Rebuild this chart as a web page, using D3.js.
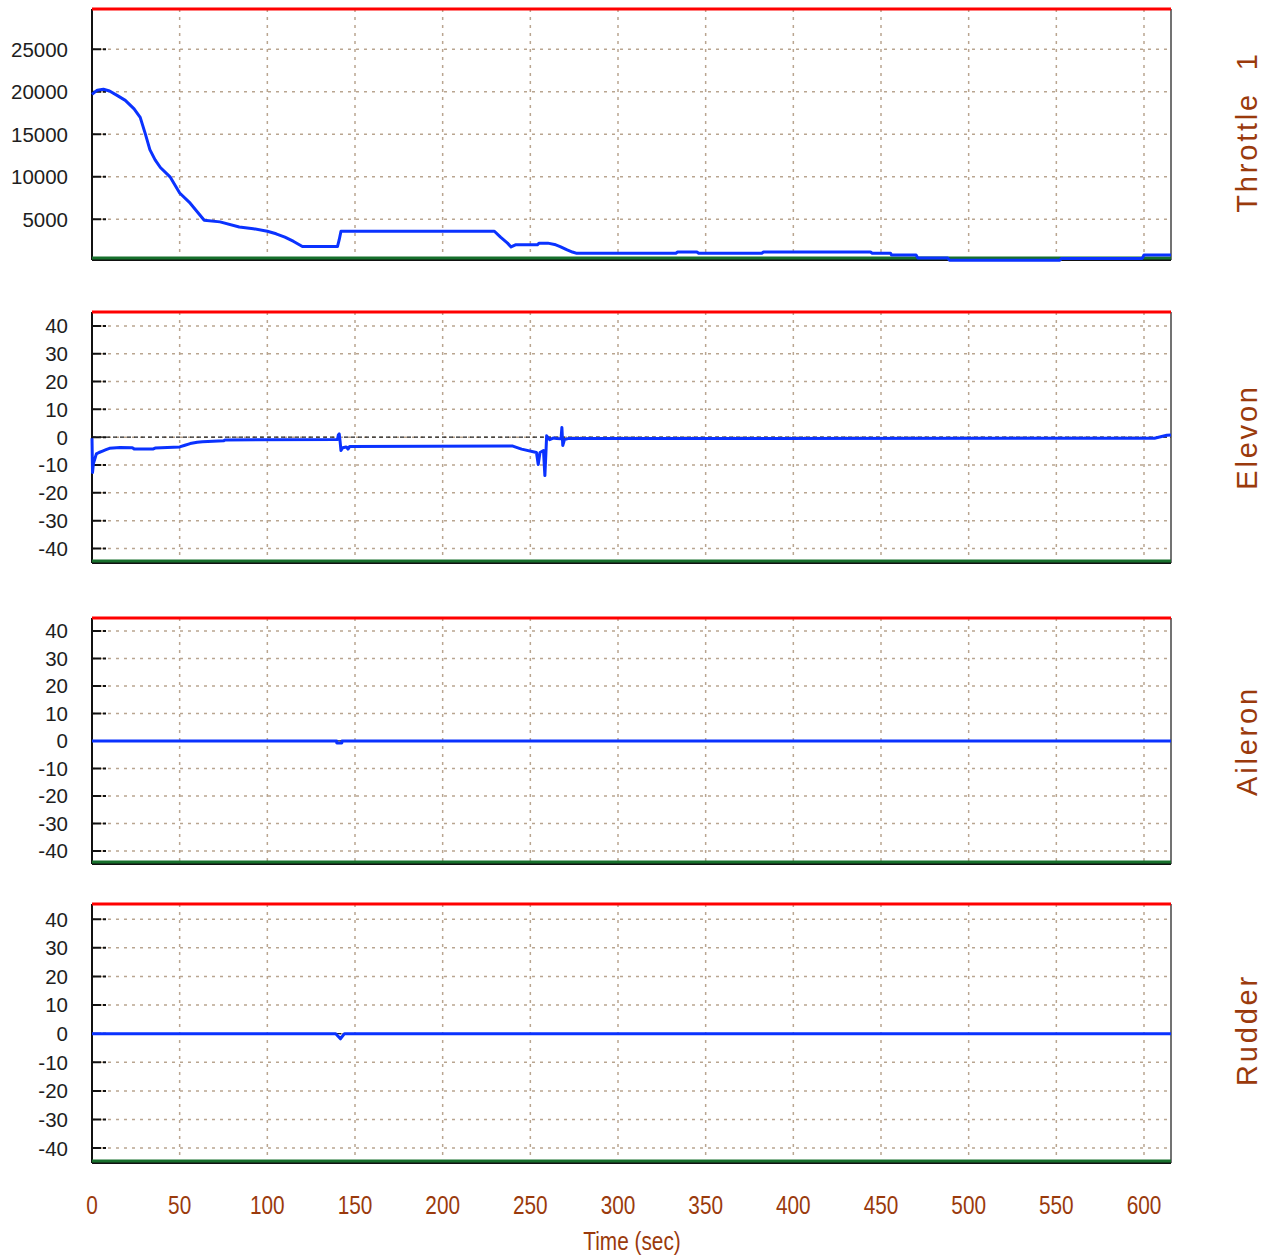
<!DOCTYPE html>
<html>
<head>
<meta charset="utf-8">
<script src="https://cdn.jsdelivr.net/npm/d3@7"></script>
<style>
  body { margin: 0; background: #fff; }
  svg { display: block; }
</style>
</head>
<body>
<svg width="1273" height="1260"></svg>
<script>
// time axis
var timeTicks = [0, 50, 100, 150, 200, 250, 300, 350, 400, 450, 500, 550, 600];
var timeMax = 615.4;

// y ticks
var throttleTicks = [5000, 10000, 15000, 20000, 25000];
var angleTicks = [-40, -30, -20, -10, 0, 10, 20, 30, 40];

// [time, value]
var throttle = [
  [0, 19700], [3, 20200], [6.5, 20300], [10, 20100], [15, 19500], [19, 19000],
  [24, 18000], [27.5, 17000], [29, 16000], [30.5, 15000], [33, 13200], [36, 12000],
  [39, 11100], [44.5, 10000], [50, 8100], [56, 6900], [60, 5900], [64, 4900],
  [73, 4700], [84, 4100], [92, 3900], [100, 3600], [105, 3300], [110, 2900],
  [115, 2400], [120, 1800], [140, 1800], [141, 2600], [142, 3600], [229.5, 3600],
  [233, 2900], [237, 2200], [239, 1750], [241.5, 2000], [254, 2000], [255, 2200],
  [260, 2200], [264.5, 2000], [267, 1800], [271, 1400], [274, 1150], [276.5, 1000],
  [333, 1000], [334, 1150], [345, 1150], [346, 1000], [382, 1000], [383, 1150],
  [444, 1150], [445, 1000], [455.5, 1000], [456, 800], [470, 800], [471, 450],
  [488, 450], [489, 200], [552, 200], [553, 400], [599, 400], [600, 800], [615.4, 800]
];

var elevon = [
  [0, -0.4], [0.3, -12.7], [0.8, -9.5], [1.5, -8], [2.5, -6], [4, -5.5], [6, -5],
  [8, -4.5], [10, -4], [16, -3.7], [23, -3.8], [24, -4.2], [35, -4.2], [36, -3.9],
  [50, -3.5], [53, -2.9], [56, -2.3], [60, -1.8], [63, -1.6], [75, -1.3], [76, -1.0],
  [140, -0.8], [140.5, 0.8], [141, 1.2], [141.5, -1.5], [142, -4.8], [143, -3.8],
  [145, -3.5], [146, -4.3], [147, -3.3], [240, -3.2], [245, -4.3], [253.5, -5.5],
  [254.5, -9.8], [255.5, -5.5], [257.5, -4.8], [258.3, -13.8], [259, -4], [259.3, 0.5],
  [261, -0.9], [263, -0.3], [265, -0.5], [267.5, -0.6], [268, 3.5], [268.5, -3],
  [269.5, -0.8], [271.5, -0.5], [606, -0.4], [613, 0.7], [615.4, 0.8]
];

var aileron = [
  [0, 0], [139.5, 0], [139.6, -0.7], [142.5, -0.7], [142.6, 0], [615.4, 0]
];

var rudder = [
  [0, 0], [139, 0], [141.7, -1.8], [144, 0], [615.4, 0]
];

// lower / upper limits per channel (green / red lines)
var throttleLimits = [450, 29750];
var elevonLimits = [-44.5, 45];
var aileronLimits = [-44, 44.7];
var rudderLimits = [-44.5, 45.3];

var panels = [
  { name: "Throttle\u00a0\u00a01", data: throttle, ticks: throttleTicks, lim: throttleLimits, top: 9, bottom: 258, mid: 132, zero: false },
  { name: "Elevon", data: elevon, ticks: angleTicks, lim: elevonLimits, top: 312, bottom: 561, mid: 437, zero: true },
  { name: "Aileron", data: aileron, ticks: angleTicks, lim: aileronLimits, top: 618, bottom: 862, mid: 741, zero: true },
  { name: "Rudder", data: rudder, ticks: angleTicks, lim: rudderLimits, top: 904, bottom: 1161, mid: 1030, zero: true }
];

var svg = d3.select("svg");
var left = 92, right = 1171;
var brown = "#9a3a0c";
var gridColor = "#b9a590";

var x = d3.scaleLinear().domain([0, timeMax]).range([left, right]);

panels.forEach(function(p) {
  var y = d3.scaleLinear().domain(p.lim).range([p.bottom, p.top]);
  var g = svg.append("g");

  // grid
  g.selectAll(".vgrid")
    .data(timeTicks.filter(function(t) { return t > 0; }))
    .enter().append("line")
    .attr("x1", function(d) { return x(d); })
    .attr("x2", function(d) { return x(d); })
    .attr("y1", p.top)
    .attr("y2", p.bottom)
    .style("stroke", gridColor)
    .style("stroke-width", 1.5)
    .style("stroke-dasharray", "3,5");

  g.selectAll(".hgrid")
    .data(p.ticks)
    .enter().append("line")
    .attr("x1", left)
    .attr("x2", right)
    .attr("y1", function(d) { return y(d); })
    .attr("y2", function(d) { return y(d); })
    .style("stroke", gridColor)
    .style("stroke-width", 1.5)
    .style("stroke-dasharray", "3,5");

  // black tick marks
  g.selectAll(".tick")
    .data(p.ticks)
    .enter().append("line")
    .attr("x1", left + 1)
    .attr("x2", left + 15)
    .attr("y1", function(d) { return y(d); })
    .attr("y2", function(d) { return y(d); })
    .style("stroke", "#111")
    .style("stroke-width", 2)
    .style("stroke-dasharray", "8,2,3");

  if (p.zero) {
    g.append("line")
      .attr("x1", left)
      .attr("x2", right)
      .attr("y1", y(0))
      .attr("y2", y(0))
      .style("stroke", "#222")
      .style("stroke-width", 1.2)
      .style("stroke-dasharray", "4,3");
  }

  // y labels
  g.selectAll(".ylab")
    .data(p.ticks)
    .enter().append("text")
    .attr("x", 68)
    .attr("y", function(d) { return y(d); })
    .attr("dy", "0.36em")
    .attr("text-anchor", "end")
    .style("font-family", "Liberation Sans, Arial, sans-serif")
    .style("font-size", "20.5px")
    .style("fill", "#1e1e1e")
    .text(function(d) { return d; });

  // frame
  g.append("line").attr("x1", left).attr("x2", left).attr("y1", p.top).attr("y2", p.bottom + 2)
    .style("stroke", "#111").style("stroke-width", 2);
  g.append("line").attr("x1", right).attr("x2", right).attr("y1", p.top).attr("y2", p.bottom + 2)
    .style("stroke", "#444").style("stroke-width", 1.5);
  g.append("line").attr("x1", left).attr("x2", right).attr("y1", p.bottom + 2).attr("y2", p.bottom + 2)
    .style("stroke", "#111").style("stroke-width", 2);

  // limits
  g.append("line").attr("x1", left).attr("x2", right).attr("y1", y(p.lim[1])).attr("y2", y(p.lim[1]))
    .style("stroke", "#ff0000").style("stroke-width", 3);
  g.append("line").attr("x1", left).attr("x2", right).attr("y1", y(p.lim[0])).attr("y2", y(p.lim[0]))
    .style("stroke", "#17702c").style("stroke-width", 3);

  // data
  var line = d3.line()
    .x(function(d) { return x(d[0]); })
    .y(function(d) { return y(d[1]); });

  g.append("path")
    .datum(p.data)
    .attr("d", line)
    .style("fill", "none")
    .style("stroke", "#0a32ff")
    .style("stroke-width", 3)
    .style("stroke-linejoin", "round");

  // channel name
  g.append("text")
    .attr("transform", "translate(1257," + p.mid + ") rotate(-90)")
    .attr("text-anchor", "middle")
    .style("font-family", "Liberation Sans, Arial, sans-serif")
    .style("font-size", "29px")
    .style("letter-spacing", "2.8px")
    .style("fill", brown)
    .text(p.name);
});

// time axis labels, condensed like the original
svg.selectAll(".xlab")
  .data(timeTicks)
  .enter().append("text")
  .attr("transform", function(d) { return "translate(" + x(d) + ",1214) scale(0.8,1)"; })
  .attr("text-anchor", "middle")
  .style("font-family", "Liberation Sans, Arial, sans-serif")
  .style("font-size", "26px")
  .style("fill", brown)
  .text(function(d) { return d; });

svg.append("text")
  .attr("transform", "translate(632,1250) scale(0.8,1)")
  .attr("text-anchor", "middle")
  .style("font-family", "Liberation Sans, Arial, sans-serif")
  .style("font-size", "26px")
  .style("fill", brown)
  .text("Time (sec)");
</script>
</body>
</html>
